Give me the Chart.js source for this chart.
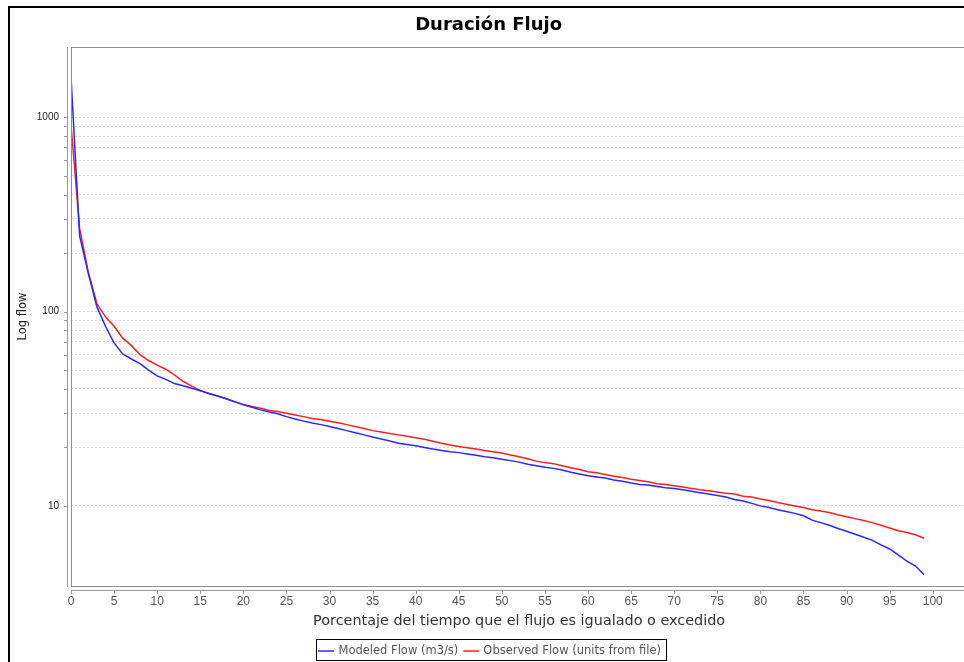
<!DOCTYPE html>
<html>
<head>
<meta charset="utf-8">
<title>Duración Flujo</title>
<script src="https://cdn.jsdelivr.net/npm/chart.js@4"></script>
<style>
  html, body { margin: 0; padding: 0; background: #fff; width: 964px; height: 662px; overflow: hidden; }
  #frame { position: absolute; left: 8px; top: 6px; border-left: 2px solid #000; border-top: 2px solid #000; }
  #frame canvas { display: block; }
</style>
</head>
<body>
<div id="frame"><canvas id="flowChart" width="963" height="654"></canvas></div>
<script>
// percent of time the flow is equalled or exceeded
const percent = [
  0, 1, 2, 3, 4, 5, 6, 7, 8, 9, 10, 11, 12, 13, 14, 15, 16, 17, 18, 19,
  20, 21, 22, 23, 24, 25, 26, 27, 28, 29, 30, 31, 32, 33, 34, 35, 36, 37, 38, 39,
  40, 41, 42, 43, 44, 45, 46, 47, 48, 49, 50, 51, 52, 53, 54, 55, 56, 57, 58, 59,
  60, 61, 62, 63, 64, 65, 66, 67, 68, 69, 70, 71, 72, 73, 74, 75, 76, 77, 78, 79,
  80, 81, 82, 83, 84, 85, 86, 87, 88, 89, 90, 91, 92, 93, 94, 95, 96, 97, 98, 99
];

// modeled flow (m3/s)
const modeledFlow = [
  1620, 245, 158, 106, 84, 69, 60.5, 57, 54, 50,
  46.7, 44.8, 42.6, 41.5, 40.3, 39.1, 37.9, 36.8, 35.6, 34.3,
  33.1, 32.2, 31.2, 30.4, 29.8, 28.8, 28.0, 27.3, 26.7, 26.2,
  25.6, 25.0, 24.4, 23.8, 23.2, 22.6, 22.1, 21.6, 21.0, 20.7,
  20.4, 20.0, 19.6, 19.3, 19.0, 18.8, 18.5, 18.2, 17.9, 17.7,
  17.4, 17.1, 16.8, 16.4, 16.1, 15.8, 15.6, 15.3, 14.9, 14.6,
  14.3, 14.1, 13.9, 13.6, 13.4, 13.1, 12.9, 12.8, 12.6, 12.4,
  12.3, 12.1, 11.9, 11.7, 11.5, 11.3, 11.1, 10.8, 10.6, 10.3,
  10.0, 9.8, 9.55, 9.35, 9.15, 8.9, 8.45, 8.2, 7.95, 7.65,
  7.4, 7.15, 6.9, 6.65, 6.3, 6.0, 5.6, 5.2, 4.9, 4.42
];

// observed flow (units from file)
const observedFlow = [
  915, 268, 160, 110, 94, 84, 73, 67, 60, 56,
  53, 50.5, 47.2, 43.8, 41.3, 39.3, 37.9, 36.8, 35.7, 34.4,
  33.3, 32.5, 31.8, 31.0, 30.6, 30.0, 29.4, 28.8, 28.2, 27.8,
  27.3, 26.8, 26.2, 25.6, 25.0, 24.4, 24.0, 23.6, 23.2, 22.8,
  22.4, 22.0, 21.5, 21.0, 20.6, 20.2, 19.9, 19.6, 19.3, 19.0,
  18.7, 18.3, 17.9, 17.5, 17.0, 16.7, 16.5, 16.1, 15.7, 15.4,
  15.0, 14.8, 14.5, 14.2, 14.0, 13.7, 13.5, 13.3, 13.0, 12.9,
  12.7, 12.5, 12.3, 12.1, 11.95, 11.8, 11.6, 11.5, 11.2, 11.1,
  10.85, 10.65, 10.4, 10.2, 10.0, 9.8, 9.55, 9.4, 9.25, 9.0,
  8.8, 8.6, 8.4, 8.2, 7.95, 7.7, 7.45, 7.3, 7.1, 6.82
];

const seriesNames = ["Modeled Flow (m3/s)", "Observed Flow (units from file)"];
const seriesColors = ["rgb(40,40,255)", "rgb(255,30,30)"];

// y grid values (log axis) and the ones that get a label
const yGridValues = [10, 20, 30, 40, 50, 60, 70, 80, 90, 100, 200, 300, 400, 500, 600, 700, 800, 900, 1000];
const yLabelValues = [10, 100, 1000];
const xTickValues = [0, 5, 10, 15, 20, 25, 30, 35, 40, 45, 50, 55, 60, 65, 70, 75, 80, 85, 90, 95, 100];

function toPoints(values) {
  return values.map((v, i) => ({ x: percent[i], y: v }));
}

// plot frame, offset axis lines and the boxed legend
const framePlugin = {
  id: "frame",
  afterDraw(chart) {
    const { ctx, chartArea: a, scales } = chart;
    ctx.save();
    ctx.lineWidth = 1;
    ctx.strokeStyle = "#8c8c8c";
    ctx.strokeRect(a.left + 0.5, a.top + 0.5, a.right - a.left, a.bottom - a.top);

    ctx.beginPath();
    ctx.strokeStyle = "#999";
    ctx.moveTo(a.left - 3.5, a.top);
    ctx.lineTo(a.left - 3.5, a.bottom + 1);
    ctx.moveTo(a.left, a.bottom + 4.5);
    ctx.lineTo(a.right, a.bottom + 4.5);
    scales.y.ticks.forEach(t => {
      const py = Math.round(scales.y.getPixelForValue(t.value)) + 0.5;
      ctx.moveTo(a.left - 7, py);
      ctx.lineTo(a.left - 4, py);
    });
    scales.x.ticks.forEach(t => {
      const px = Math.round(scales.x.getPixelForValue(t.value)) + 0.5;
      ctx.moveTo(px, a.bottom + 5);
      ctx.lineTo(px, a.bottom + 8);
    });
    ctx.stroke();

    // legend
    ctx.font = "11.5px 'DejaVu Sans'";
    ctx.textBaseline = "middle";
    const lineLen = 16;
    const widths = seriesNames.map(n => ctx.measureText(n).width);
    const total = 2 + lineLen + 4.5 + widths[0] + 5 + lineLen + 4 + widths[1] + 4.5;
    let bx = Math.round(chart.width / 2 - 1 - total / 2);
    const by = 631;
    ctx.strokeStyle = "#000";
    ctx.strokeRect(bx + 0.5, by + 0.5, Math.round(total), 21);
    let cx = bx + 2;
    const cy = by + 12;
    seriesNames.forEach((name, i) => {
      ctx.beginPath();
      ctx.strokeStyle = seriesColors[i];
      ctx.lineWidth = 1.5;
      ctx.moveTo(cx, cy);
      ctx.lineTo(cx + lineLen, cy);
      ctx.stroke();
      cx += lineLen + (i === 0 ? 4.5 : 4);
      ctx.fillStyle = "#555";
      ctx.fillText(name, cx, cy);
      cx += widths[i] + 5;
    });
    ctx.restore();
  }
};

new Chart(document.getElementById("flowChart"), {
  type: "line",
  data: {
    datasets: [
      {
        label: seriesNames[0],
        data: toPoints(modeledFlow),
        borderColor: seriesColors[0],
        borderWidth: 1.5,
        pointRadius: 0,
        tension: 0,
        fill: false
      },
      {
        label: seriesNames[1],
        data: toPoints(observedFlow),
        borderColor: seriesColors[1],
        borderWidth: 1.5,
        pointRadius: 0,
        tension: 0,
        fill: false
      }
    ]
  },
  options: {
    responsive: false,
    animation: false,
    layout: { padding: { left: 0, right: 5.8, top: 0, bottom: 30 } },
    plugins: {
      legend: { display: false },
      tooltip: { enabled: false },
      title: {
        display: true,
        text: "Duración Flujo",
        color: "#000",
        font: { family: "'DejaVu Sans'", size: 18, weight: "bold", lineHeight: 1 },
        padding: { top: 8, bottom: 13 }
      }
    },
    scales: {
      x: {
        type: "linear",
        min: 0,
        max: 104,
        grid: { display: false, drawTicks: false },
        border: { display: false },
        ticks: {
          stepSize: 5,
          padding: 8,
          autoSkip: false,
          maxRotation: 0,
          color: "#555",
          font: { family: "'Liberation Sans'", size: 12 }
        },
        afterBuildTicks: scale => {
          scale.ticks = xTickValues.map(v => ({ value: v }));
        },
        afterFit: scale => { scale.height = 46; },
        title: {
          display: true,
          text: "Porcentaje del tiempo que el flujo es igualado o excedido",
          color: "#333",
          font: { family: "'DejaVu Sans'", size: 14.4 },
          padding: { top: 0, bottom: 2.4 }
        }
      },
      y: {
        type: "logarithmic",
        min: 3.87,
        max: 2300,
        grid: { color: "#d9d9d9", lineWidth: 1, drawTicks: false },
        border: { display: false, dash: [2, 2] },
        ticks: {
          padding: 12,
          autoSkip: false,
          color: "#222",
          font: { family: "'Liberation Sans'", size: 10 },
          callback: value => (yLabelValues.includes(value) ? String(value) : "")
        },
        afterBuildTicks: scale => {
          scale.ticks = yGridValues.map(v => ({ value: v }));
        },
        afterFit: scale => { scale.width = 61; },
        title: {
          display: true,
          text: "Log flow",
          color: "#222",
          font: { family: "'DejaVu Sans'", size: 11.5 },
          padding: { top: 6, bottom: 0 }
        }
      }
    }
  },
  plugins: [framePlugin]
});
</script>
</body>
</html>
